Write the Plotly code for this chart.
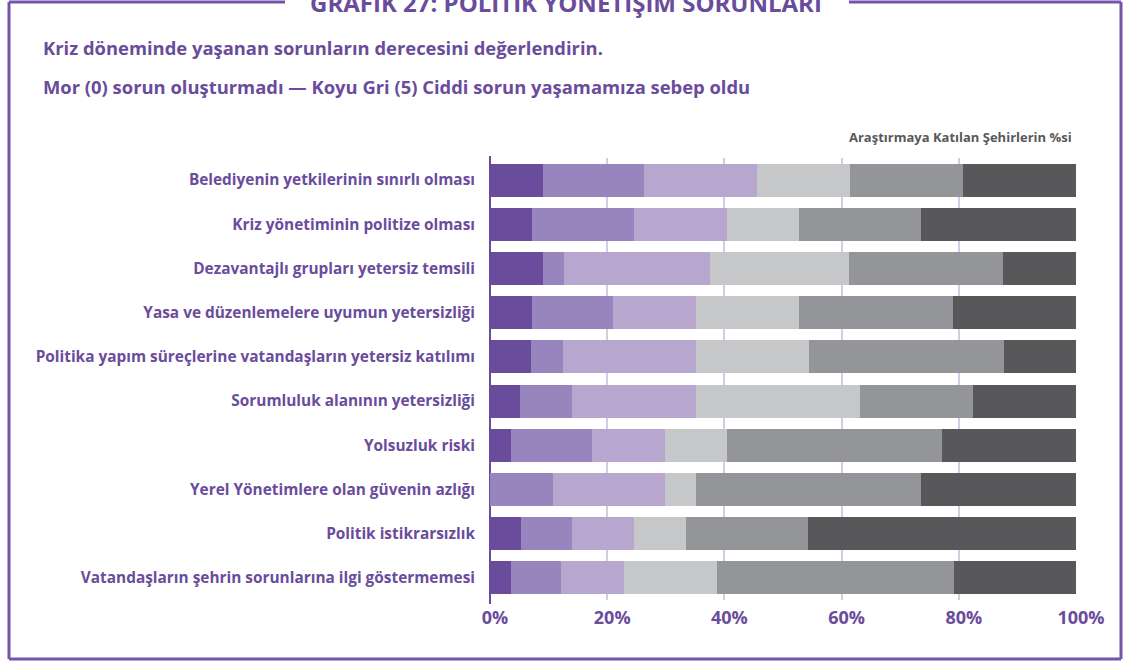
import plotly.graph_objects as go

categories = [
    "Belediyenin yetkilerinin sınırlı olması",
    "Kriz yönetiminin politize olması",
    "Dezavantajlı grupları yetersiz temsili",
    "Yasa ve düzenlemelere uyumun yetersizliği",
    "Politika yapım süreçlerine vatandaşların yetersiz katılımı",
    "Sorumluluk alanının yetersizliği",
    "Yolsuzluk riski",
    "Yerel Yönetimlere olan güvenin azlığı",
    "Politik istikrarsızlık",
    "Vatandaşların şehrin sorunlarına ilgi göstermemesi",
]

level_names = ["0", "1", "2", "3", "4", "5"]
level0 = [9.1, 7.2, 9.1, 7.2, 7.0, 5.2, 3.6, 0.0, 5.3, 3.6]
level1 = [17.2, 17.4, 3.6, 13.8, 5.5, 8.8, 13.8, 10.8, 8.7, 8.6]
level2 = [19.2, 15.9, 24.9, 14.1, 22.7, 21.2, 12.4, 19.1, 10.6, 10.7]
level3 = [16.0, 12.3, 23.6, 17.6, 19.3, 28.0, 10.6, 5.3, 8.9, 15.9]
level4 = [19.2, 20.8, 26.3, 26.3, 33.2, 19.3, 36.7, 38.4, 20.8, 40.3]
level5 = [19.3, 26.4, 12.6, 21.0, 12.3, 17.6, 22.9, 26.4, 45.7, 21.0]
levels = [level0, level1, level2, level3, level4, level5]

tick_values = [0, 20, 40, 60, 80, 100]
tick_labels = ["0%", "20%", "40%", "60%", "80%", "100%"]

colors = ["#6a4c9c", "#9985be", "#b7a7cf", "#c6c7c8", "#949598", "#58585a"]
purple = "#6a4c9c"
frame = "#7254a8"
FONT = "Open Sans"

W, H = 1126, 662
L, R, T, B = 490, 50, 158, 62
PW, PH = W - L - R, H - T - B


def px(x):
    return (x - L) / PW


def py(y):
    return (H - B - y) / PH


fig = go.Figure()
for name, vals, c in zip(level_names, levels, colors):
    fig.add_trace(go.Bar(
        y=categories, x=vals, orientation="h", name=name,
        marker=dict(color=c, line=dict(width=0)),
        hoverinfo="x+y",
    ))

fig.update_layout(
    width=W, height=H,
    barmode="stack", bargap=0.25,
    showlegend=False,
    plot_bgcolor="white", paper_bgcolor="white",
    margin=dict(l=L, r=R, t=T, b=B),
    font=dict(family=FONT, color=purple),
)
fig.update_xaxes(
    range=[0, 100], tickmode="array", tickvals=tick_values, ticktext=tick_labels,
    showgrid=True, gridcolor="#d4cce4", gridwidth=1.5,
    zeroline=False, showline=False,
    tickfont=dict(family=FONT, size=18, color=purple, weight="bold"),
    ticklabelshift=5, ticklabelstandoff=5,
    fixedrange=True,
)
fig.update_yaxes(
    autorange="reversed", showgrid=False, zeroline=False, showline=False,
    tickfont=dict(family=FONT, size=15.4, color=purple, weight="bold"),
    ticklabelstandoff=14,
    fixedrange=True,
)

shapes = [
    # 0% axis line
    dict(type="line", xref="paper", yref="paper", x0=0, x1=0, y0=py(604), y1=py(156),
         line=dict(color=purple, width=2), layer="below"),
    # frame
    dict(type="line", xref="paper", yref="paper", x0=px(9), x1=px(9), y0=py(2), y1=py(659),
         line=dict(color=frame, width=3)),
    dict(type="line", xref="paper", yref="paper", x0=px(9), x1=px(1121), y0=py(659), y1=py(659),
         line=dict(color=frame, width=3)),
    dict(type="line", xref="paper", yref="paper", x0=px(1121), x1=px(1121), y0=py(2), y1=py(659),
         line=dict(color=frame, width=3)),
    dict(type="line", xref="paper", yref="paper", x0=px(9), x1=px(285), y0=py(2), y1=py(2),
         line=dict(color=frame, width=3)),
    dict(type="line", xref="paper", yref="paper", x0=px(849), x1=px(1121), y0=py(2), y1=py(2),
         line=dict(color=frame, width=3)),
]
fig.update_layout(shapes=shapes)

annotations = [
    dict(text="GRAFİK 27: POLİTİK YÖNETİŞİM SORUNLARI", x=px(566), y=py(3),
         xanchor="center", yanchor="middle",
         font=dict(family=FONT, size=24, color=purple, weight="bold")),
    dict(text="Kriz döneminde yaşanan sorunların derecesini değerlendirin.", x=px(41), y=py(47),
         xanchor="left", yanchor="middle",
         font=dict(family=FONT, size=18.4, color=purple, weight="bold")),
    dict(text="Mor (0) sorun oluşturmadı — Koyu Gri (5) Ciddi sorun yaşamamıza sebep oldu", x=px(41), y=py(87),
         xanchor="left", yanchor="middle",
         font=dict(family=FONT, size=18.4, color=purple, weight="bold")),
    dict(text="Araştırmaya Katılan Şehirlerin %si", x=px(1074), y=py(137),
         xanchor="right", yanchor="middle",
         font=dict(family=FONT, size=13, color="#58585a", weight="bold")),
]
for a in annotations:
    a.update(xref="paper", yref="paper", showarrow=False)
fig.update_layout(annotations=annotations)

fig.write_html("out.html")
